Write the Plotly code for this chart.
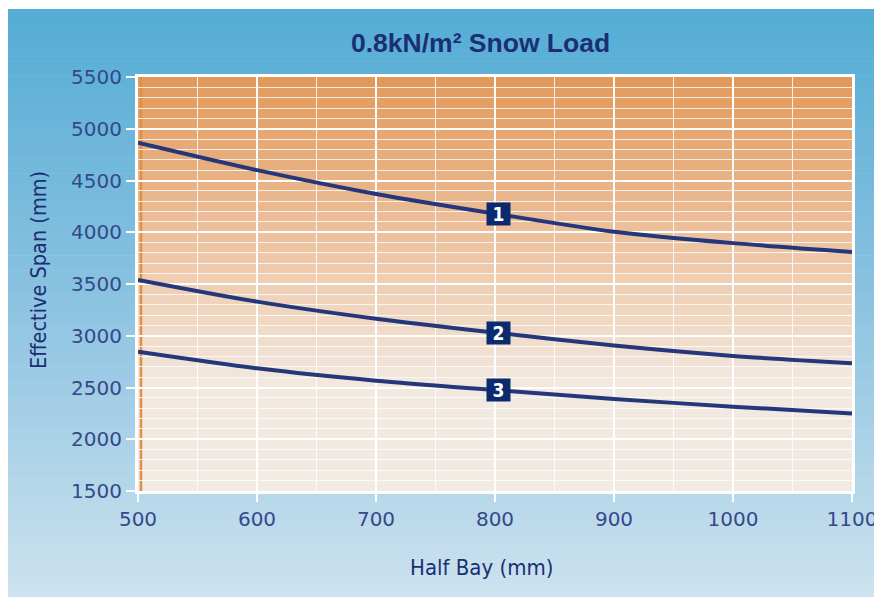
import numpy as np
import plotly.graph_objects as go

# Half bay (mm) and effective span (mm)
half_bay = [500, 600, 700, 800, 900, 1000, 1100]
span_1 = [4865, 4600, 4370, 4180, 4005, 3895, 3810]
span_2 = [3540, 3330, 3165, 3030, 2905, 2805, 2735]
span_3 = [2845, 2685, 2565, 2475, 2390, 2315, 2250]
series = [("1", span_1), ("2", span_2), ("3", span_3)]
label_x = 800

x_ticks = [500, 600, 700, 800, 900, 1000, 1100]
y_ticks = [1500, 2000, 2500, 3000, 3500, 4000, 4500, 5000, 5500]

# the page body adds an 8px margin, so work in page pixels and shift
OFF = 8
W, H = 882, 597
L, T = 138 - OFF, 77 - OFF
R, B = W - (852 - OFF), H - (491 - OFF)
pw, ph = W - L - R, H - T - B

NAVY = "#1b2f72"
LINE = "#24377a"
NARROW = "DejaVu Sans Condensed, Liberation Sans Narrow, Arial Narrow, sans-serif"


def px_x(p):
    return (p - OFF - L) / pw


def px_y(p):
    return (H - B - (p - OFF)) / ph


def mix(stops, t):
    pos = [s[0] for s in stops]
    return "rgb(%d,%d,%d)" % tuple(
        int(round(np.interp(t, pos, [s[1][i] for s in stops]))) for i in range(3))


shapes = []

# blue page gradient
blue = [(0.0, (84, 172, 212)), (0.45, (135, 193, 224)), (1.0, (207, 227, 239))]
top, bot, n = 9, 606, 80
for i in range(n):
    y0 = top + (bot - top) * i / n
    y1 = top + (bot - top) * (i + 1) / n + 0.6
    shapes.append(dict(type="rect", xref="paper", yref="paper", layer="below",
                       x0=px_x(0), x1=px_x(890), y0=px_y(y1), y1=px_y(y0),
                       line_width=0, fillcolor=mix(blue, (i + 0.5) / n)))

# orange plot gradient, one band per 100 mm
orange = [(1500, (242, 235, 227)), (2500, (242, 233, 224)), (3500, (239, 207, 180)),
          (4500, (233, 178, 132)), (5500, (226, 153, 90))]
for v in range(1500, 5500, 100):
    shapes.append(dict(type="rect", xref="x", yref="y", layer="below",
                       x0=500, x1=1100, y0=v, y1=v + 100, line_width=0,
                       fillcolor=mix(orange, v + 50)))
shapes.append(dict(type="line", xref="x", yref="y", layer="below",
                   x0=502.5, x1=502.5, y0=1500, y1=5500,
                   line=dict(color="#e08f48", width=2.5)))

fig = go.Figure()
for name, ys in series:
    fig.add_trace(go.Scatter(x=half_bay, y=ys, mode="lines", name=name,
                             line=dict(color=LINE, width=4, shape="spline", smoothing=0.8),
                             hoverinfo="skip"))

annotations = []
for name, ys in series:
    annotations.append(dict(x=label_x + 3, y=ys[half_bay.index(label_x)], xref="x", yref="y",
                            text="<b>%s</b>" % name, showarrow=False,
                            font=dict(family=NARROW, size=19, color="white"),
                            bgcolor="#0c2a6e", width=19, height=18, borderpad=2))

annotations.append(dict(x=px_x(480), y=px_y(43), xref="paper", yref="paper",
                        xanchor="center", yanchor="middle",
                        text="<b>0.8kN/m² Snow Load</b>", showarrow=False,
                        font=dict(family="Liberation Sans, Arial, sans-serif", size=26.5, color=NAVY)))
annotations.append(dict(x=px_x(481), y=px_y(567), xref="paper", yref="paper",
                        xanchor="center", yanchor="middle",
                        text="Half Bay (mm)", showarrow=False,
                        font=dict(family=NARROW, size=22, color=NAVY)))
annotations.append(dict(x=px_x(38), y=px_y(270), xref="paper", yref="paper",
                        xanchor="center", yanchor="middle",
                        text="Effective Span (mm)", showarrow=False, textangle=-90,
                        font=dict(family=NARROW, size=21.5, color=NAVY)))

tickfont = dict(family="DejaVu Sans, sans-serif", size=20, color="#34498a")

fig.update_layout(
    width=W, height=H,
    margin=dict(l=L, r=R, t=T, b=B),
    paper_bgcolor="white",
    plot_bgcolor="rgba(0,0,0,0)",
    showlegend=False,
    shapes=shapes,
    annotations=annotations,
    xaxis=dict(range=[500, 1100], tickvals=x_ticks, ticks="outside", ticklen=8,
               tickcolor="white", tickwidth=2, tickfont=tickfont,
               showgrid=True, gridcolor="white", gridwidth=2,
               minor=dict(dtick=50, showgrid=True, gridcolor="rgba(255,255,255,0.85)", gridwidth=1),
               showline=True, linecolor="white", linewidth=3, mirror=True, zeroline=False),
    yaxis=dict(range=[1500, 5500], tickvals=y_ticks, ticks="outside", ticklen=9,
               tickcolor="white", tickwidth=2, tickfont=tickfont,
               showgrid=True, gridcolor="white", gridwidth=1.6,
               minor=dict(dtick=100, showgrid=True, gridcolor="rgba(255,255,255,0.8)", gridwidth=1),
               showline=True, linecolor="white", linewidth=3, mirror=True, zeroline=False),
)

fig.write_html("out.html")
